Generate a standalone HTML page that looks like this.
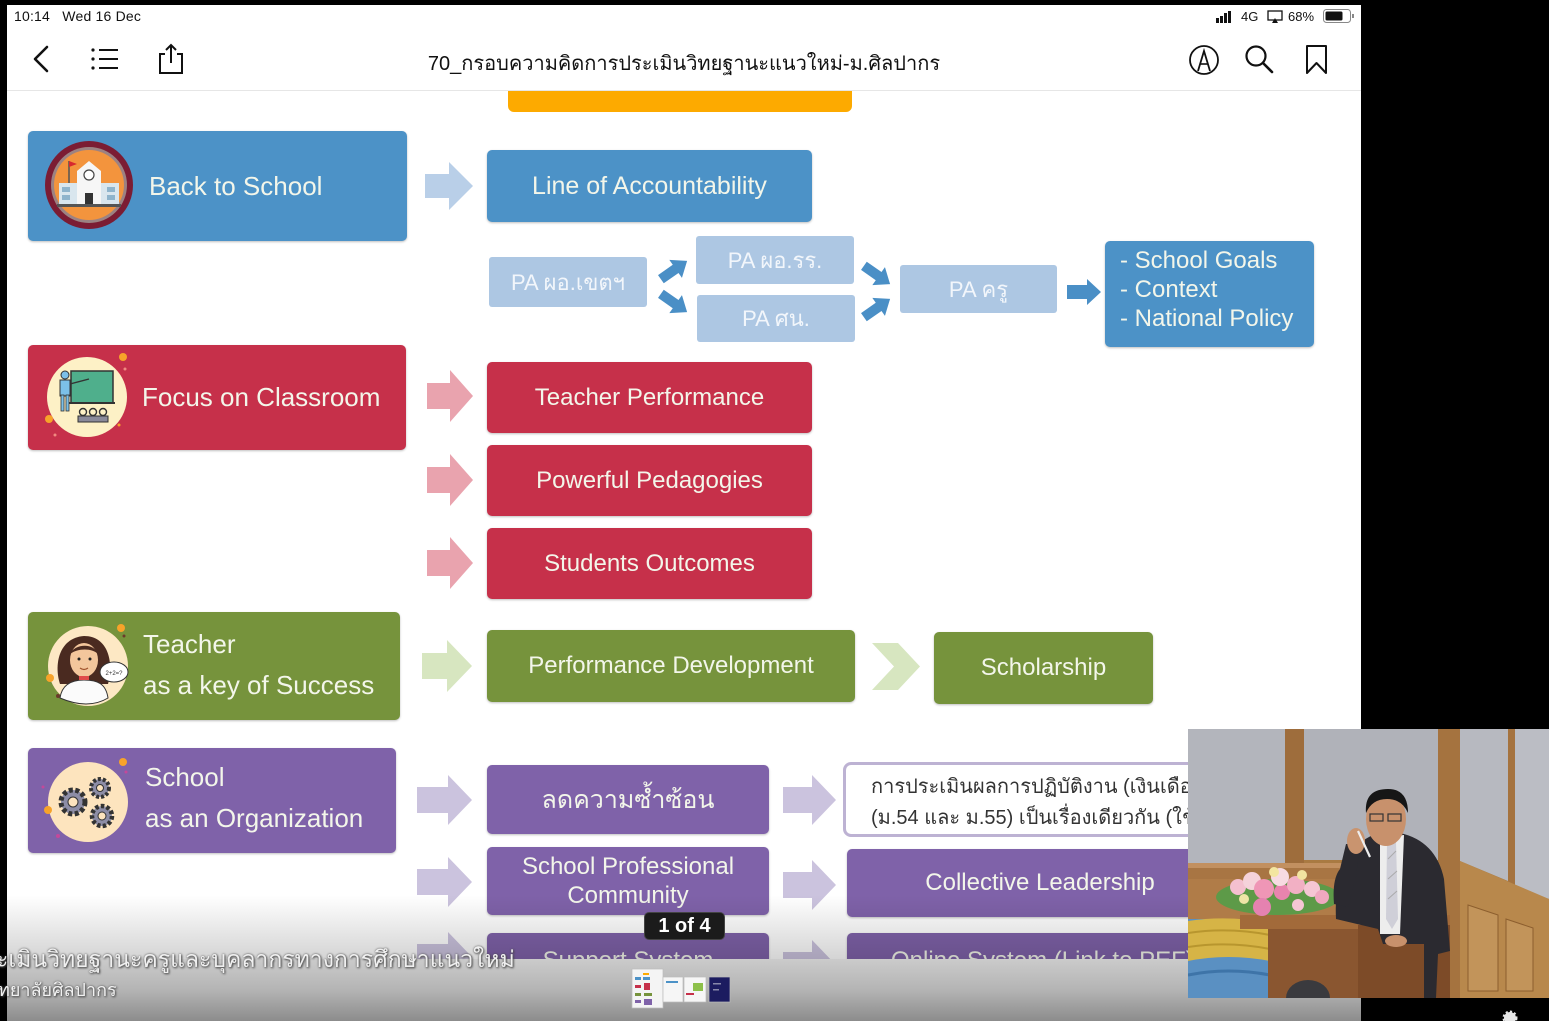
<!DOCTYPE html>
<html><head><meta charset="utf-8">
<style>
*{margin:0;padding:0;box-sizing:border-box}
html,body{width:1549px;height:1021px;overflow:hidden;background:#000}
body{position:relative;font-family:"Liberation Sans","DejaVu Sans","Noto Sans CJK SC",sans-serif}
.abs{position:absolute}
.screen{position:absolute;left:7px;top:5px;width:1354px;height:1016px;background:#fff}
.box{position:absolute;display:flex;align-items:center;justify-content:center;color:#f3f6ea;border-radius:5px;font-size:24px;box-shadow:0 1px 2px rgba(0,0,0,.25);text-align:center;white-space:nowrap;overflow:hidden}
.blue{background:#4c92c7}
.lb{background:#adc7e3;font-size:22px;color:#f2f6fb;box-shadow:none;border-radius:3px}
.red{background:#c6304a}
.green{background:#76933c}
.purple{background:#7f62a9}
.main{justify-content:flex-start;font-size:26px;line-height:41px;text-align:left}
svg{position:absolute;overflow:visible}
</style></head><body>
<div class="screen"></div>

<!-- status bar -->
<div class="abs" style="left:14px;top:8px;font-size:14px;color:#111;letter-spacing:0.2px;">10:14&nbsp;&nbsp;&nbsp;Wed 16 Dec</div>
<svg style="left:1214px;top:10px" width="30" height="14"><rect x="2" y="8" width="3" height="5" fill="#111"/><rect x="6" y="6" width="3" height="7" fill="#111"/><rect x="10" y="3" width="3" height="10" fill="#111"/><rect x="14" y="1" width="3" height="12" fill="#111"/></svg>
<div class="abs" style="left:1241px;top:9px;font-size:13px;color:#111;">4G</div>
<svg style="left:1267px;top:10px" width="18" height="14"><rect x="1" y="1" width="14" height="9" fill="none" stroke="#111" stroke-width="1.3"/><polygon points="5,13 8,8 11,13" fill="#111"/></svg>
<div class="abs" style="left:1288px;top:9px;font-size:13px;color:#111;">68%</div>
<svg style="left:1323px;top:9px" width="32" height="14"><rect x="0.5" y="0.5" width="27" height="13" rx="3" fill="none" stroke="#888"/><rect x="2.5" y="2.5" width="17" height="9" rx="1.5" fill="#111"/><rect x="29" y="5" width="2" height="4" fill="#888"/></svg>

<!-- nav -->
<svg style="left:30px;top:44px" width="30" height="32"><polyline points="17,3 5,15 17,27" fill="none" stroke="#111" stroke-width="2.6" stroke-linecap="round" stroke-linejoin="round"/></svg>
<svg style="left:90px;top:46px" width="32" height="28"><circle cx="3" cy="4" r="1.6" fill="#111"/><circle cx="3" cy="13" r="1.6" fill="#111"/><circle cx="3" cy="22" r="1.6" fill="#111"/><line x1="9" y1="4" x2="28" y2="4" stroke="#111" stroke-width="2"/><line x1="9" y1="13" x2="28" y2="13" stroke="#111" stroke-width="2"/><line x1="9" y1="22" x2="28" y2="22" stroke="#111" stroke-width="2"/></svg>
<svg style="left:158px;top:42px" width="28" height="34"><path d="M7,12 H2 V31 H24 V12 H19" fill="none" stroke="#111" stroke-width="2"/><line x1="13" y1="3" x2="13" y2="21" stroke="#111" stroke-width="2"/><polyline points="8,8 13,3 18,8" fill="none" stroke="#111" stroke-width="2"/></svg>
<div class="abs" style="left:7px;width:1354px;top:47px;text-align:center;font-size:20px;color:#111;font-family:'Liberation Sans','DejaVu Sans',sans-serif;">70_กรอบความคิดการประเมินวิทยฐานะแนวใหม่-ม.ศิลปากร</div>
<svg style="left:1188px;top:44px" width="34" height="34"><circle cx="16" cy="16" r="14" fill="none" stroke="#111" stroke-width="1.8"/><path d="M10,27 L16,7 L22,27" fill="none" stroke="#111" stroke-width="1.8"/><line x1="12" y1="20" x2="20" y2="20" stroke="#111" stroke-width="1.6"/></svg>
<svg style="left:1244px;top:44px" width="32" height="32"><circle cx="12" cy="12" r="9.5" fill="none" stroke="#111" stroke-width="2.2"/><line x1="19" y1="19" x2="28" y2="28" stroke="#111" stroke-width="2.6" stroke-linecap="round"/></svg>
<svg style="left:1305px;top:44px" width="26" height="32"><path d="M2,2 H21 V29 L11.5,19 L2,29 Z" fill="none" stroke="#111" stroke-width="2" stroke-linejoin="round"/></svg>
<div class="abs" style="left:7px;top:90px;width:1354px;height:1px;background:#e6e6e6"></div>

<!-- orange bar -->
<div class="abs" style="left:508px;top:91px;width:344px;height:21px;background:#fdaa00;border-radius:0 0 6px 6px"></div>

<!-- Row 1 -->
<div class="box blue main" style="left:28px;top:131px;width:379px;height:110px;padding-left:121px;">Back to School</div>
<svg style="left:45px;top:141px" width="88" height="88">
<circle cx="44" cy="44" r="44" fill="#7b1c33"/><circle cx="44" cy="44" r="38" fill="#9c8282"/><circle cx="44" cy="44" r="35" fill="#f3943d"/>
<rect x="14" y="42" width="60" height="22" fill="#d9e6ee"/><rect x="17" y="46" width="8" height="5" fill="#8fb4cc"/><rect x="17" y="54" width="8" height="5" fill="#8fb4cc"/><rect x="62" y="46" width="8" height="5" fill="#8fb4cc"/><rect x="62" y="54" width="8" height="5" fill="#8fb4cc"/>
<polygon points="32,30 44,20 56,30 56,64 32,64" fill="#f6f6f6"/><circle cx="44" cy="34" r="5" fill="#fff" stroke="#444" stroke-width="1.2"/><rect x="40" y="52" width="8" height="12" fill="#333"/>
<line x1="24" y1="20" x2="24" y2="42" stroke="#555" stroke-width="1.5"/><polygon points="24,20 32,23 24,26" fill="#d8282e"/><rect x="12" y="63" width="64" height="3" fill="#555"/>
</svg>
<svg style="left:425px;top:162px" width="48" height="48"><polygon points="0,12 24,12 24,0 48,24 24,48 24,36 0,36" fill="#b9cfe8"/></svg>
<div class="box blue" style="left:487px;top:150px;width:325px;height:72px;font-size:25px;">Line of Accountability</div>

<div class="box lb" style="left:489px;top:257px;width:158px;height:50px;">PA ผอ.เขตฯ</div>
<div class="box lb" style="left:696px;top:236px;width:158px;height:48px;">PA ผอ.รร.</div>
<div class="box lb" style="left:697px;top:295px;width:158px;height:47px;">PA ศน.</div>
<div class="box lb" style="left:900px;top:265px;width:157px;height:48px;">PA ครู</div>
<svg style="left:657px;top:256px" width="34" height="28"><g transform="translate(17,14) rotate(-35)"><polygon points="-16,-5 2,-5 2,-11 16,0 2,11 2,5 -16,5" fill="#4a8fc6"/></g></svg>
<svg style="left:657px;top:289px" width="34" height="28"><g transform="translate(17,14) rotate(35)"><polygon points="-16,-5 2,-5 2,-11 16,0 2,11 2,5 -16,5" fill="#4a8fc6"/></g></svg>
<svg style="left:860px;top:261px" width="34" height="28"><g transform="translate(17,14) rotate(35)"><polygon points="-16,-5 2,-5 2,-11 16,0 2,11 2,5 -16,5" fill="#4a8fc6"/></g></svg>
<svg style="left:860px;top:294px" width="34" height="28"><g transform="translate(17,14) rotate(-35)"><polygon points="-16,-5 2,-5 2,-11 16,0 2,11 2,5 -16,5" fill="#4a8fc6"/></g></svg>
<svg style="left:1067px;top:279px" width="34" height="26"><polygon points="0,6 20,6 20,0 34,13 20,26 20,20 0,20" fill="#4a8fc6"/></svg>
<div class="box blue" style="left:1105px;top:241px;width:209px;height:106px;justify-content:flex-start;padding-left:15px;padding-bottom:9px;line-height:29px;text-align:left;">- School Goals<br>- Context<br>- National Policy</div>

<!-- Row 2 -->
<div class="box red main" style="left:28px;top:345px;width:378px;height:105px;padding-left:114px;">Focus on Classroom</div>
<svg style="left:47px;top:357px" width="80" height="80">
<circle cx="40" cy="40" r="40" fill="#fdf1c6"/>
<circle cx="76" cy="0" r="4" fill="#f7a32a"/><circle cx="78" cy="12" r="1.5" fill="#f08a80"/><circle cx="2" cy="62" r="4" fill="#f7a32a"/><circle cx="8" cy="78" r="1.5" fill="#f08a80"/><circle cx="72" cy="68" r="1.5" fill="#f7a32a"/>
<rect x="24" y="14" width="42" height="32" fill="#4faf8c" stroke="#333" stroke-width="1.5"/><line x1="22" y1="46" x2="68" y2="46" stroke="#333" stroke-width="2"/>
<circle cx="18" cy="18" r="4" fill="#7cc0e8" stroke="#333" stroke-width="1"/><rect x="13" y="23" width="10" height="16" fill="#7cc0e8" stroke="#333" stroke-width="1"/><rect x="14" y="38" width="3" height="16" fill="#7cc0e8" stroke="#333" stroke-width="0.8"/><rect x="19" y="38" width="3" height="16" fill="#7cc0e8" stroke="#333" stroke-width="0.8"/>
<line x1="23" y1="27" x2="42" y2="22" stroke="#333" stroke-width="1.4"/>
<circle cx="36" cy="55" r="3.5" fill="none" stroke="#333" stroke-width="1.4"/><circle cx="46" cy="55" r="3.5" fill="none" stroke="#333" stroke-width="1.4"/><circle cx="56" cy="55" r="3.5" fill="none" stroke="#333" stroke-width="1.4"/>
<rect x="31" y="59" width="30" height="6" fill="#8a8a9a" stroke="#333" stroke-width="1"/>
</svg>
<svg style="left:427px;top:370px" width="46" height="52"><polygon points="0,13 23,13 23,0 46,26 23,52 23,39 0,39" fill="#e9a3ae"/></svg>
<svg style="left:427px;top:454px" width="46" height="52"><polygon points="0,13 23,13 23,0 46,26 23,52 23,39 0,39" fill="#e9a3ae"/></svg>
<svg style="left:427px;top:537px" width="46" height="52"><polygon points="0,13 23,13 23,0 46,26 23,52 23,39 0,39" fill="#e9a3ae"/></svg>
<div class="box red" style="left:487px;top:362px;width:325px;height:71px;">Teacher Performance</div>
<div class="box red" style="left:487px;top:445px;width:325px;height:71px;">Powerful Pedagogies</div>
<div class="box red" style="left:487px;top:528px;width:325px;height:71px;">Students Outcomes</div>

<!-- Row 3 -->
<div class="box green main" style="left:28px;top:612px;width:372px;height:108px;padding-left:115px;padding-bottom:2px;">Teacher<br>as a key of Success</div>
<svg style="left:48px;top:626px" width="82" height="82">
<circle cx="40" cy="40" r="40" fill="#fde8c4"/>
<circle cx="73" cy="2" r="4" fill="#f7a32a"/><circle cx="76" cy="10" r="1.5" fill="#6b3a2a"/><circle cx="2" cy="52" r="4" fill="#f7a32a"/><circle cx="10" cy="70" r="2" fill="#6b3a2a"/>
<path d="M12,58 C6,40 10,12 36,10 C60,10 66,36 60,58 Z" fill="#4a2a20"/>
<ellipse cx="36" cy="34" rx="14" ry="17" fill="#f3c69c"/>
<path d="M22,28 C26,18 46,16 50,28 C44,22 30,22 22,28Z" fill="#4a2a20"/>
<circle cx="31" cy="33" r="1.5" fill="#222"/><circle cx="42" cy="33" r="1.5" fill="#222"/><path d="M32,42 Q36,45 40,42" stroke="#a0522d" fill="none" stroke-width="1.2"/>
<path d="M12,72 C14,58 24,54 36,54 C50,54 58,58 60,72 Q40,84 12,72Z" fill="#fbfbfb" stroke="#333" stroke-width="1"/>
<rect x="31" y="50" width="10" height="4" fill="#e04b4b"/>
<ellipse cx="66" cy="46" rx="14" ry="10" fill="#fff" stroke="#333" stroke-width="1"/>
<text x="66" y="49" font-size="6" text-anchor="middle" fill="#333" font-family="Liberation Sans">2+2=?</text>
</svg>
<svg style="left:422px;top:640px" width="50" height="52"><polygon points="0,13 25,13 25,0 50,26 25,52 25,39 0,39" fill="#d7e6c0"/></svg>
<div class="box green" style="left:487px;top:630px;width:368px;height:72px;">Performance Development</div>
<svg style="left:872px;top:643px" width="48" height="47"><polygon points="0,0 26,0 48,23.5 26,47 0,47 22,23.5" fill="#d7e6c0"/></svg>
<div class="box green" style="left:934px;top:632px;width:219px;height:72px;">Scholarship</div>

<!-- Row 4 -->
<div class="box purple main" style="left:28px;top:748px;width:368px;height:105px;padding-left:117px;padding-bottom:6px;">School<br>as an Organization</div>
<svg style="left:48px;top:762px" width="82" height="82">
<circle cx="40" cy="40" r="40" fill="#fde4be"/>
<circle cx="75" cy="0" r="4" fill="#f7a32a"/><circle cx="78" cy="10" r="1.5" fill="#c4489a"/><circle cx="0" cy="48" r="4" fill="#f7a32a"/><circle cx="-5" cy="25" r="1.5" fill="#c4489a"/><circle cx="10" cy="74" r="2" fill="#c4489a"/>
<g fill="#6d6d86" stroke="#333" stroke-width="1">
<circle cx="25" cy="40" r="12" stroke-dasharray="4 2.5" stroke-width="5" fill="#8d8da6"/><circle cx="25" cy="40" r="5" fill="#fde4be"/>
<circle cx="52" cy="26" r="9" stroke-dasharray="3 2" stroke-width="4" fill="#8d8da6"/><circle cx="52" cy="26" r="3.5" fill="#fde4be"/>
<circle cx="54" cy="54" r="10" stroke-dasharray="3.5 2.2" stroke-width="4.5" fill="#8d8da6"/><circle cx="54" cy="54" r="4" fill="#fde4be"/>
</g>
</svg>
<svg style="left:417px;top:775px" width="55" height="50"><polygon points="0,12 31,12 31,0 55,25 31,50 31,38 0,38" fill="#cbc3de"/></svg>
<svg style="left:417px;top:857px" width="55" height="50"><polygon points="0,12 31,12 31,0 55,25 31,50 31,38 0,38" fill="#cbc3de"/></svg>
<svg style="left:417px;top:932px" width="55" height="50"><polygon points="0,12 31,12 31,0 55,25 31,50 31,38 0,38" fill="#cbc3de"/></svg>
<div class="box purple" style="left:487px;top:765px;width:282px;height:69px;font-size:25px;">ลดความซ้ำซ้อน</div>
<svg style="left:783px;top:775px" width="53" height="50"><polygon points="0,12 29,12 29,0 53,25 29,50 29,38 0,38" fill="#cbc3de"/></svg>
<div class="abs" style="left:843px;top:762px;width:400px;height:75px;border:3px solid #bdb2d3;border-radius:8px;background:#fff;font-size:20px;color:#333;line-height:31px;padding:7px 0 0 25px;white-space:nowrap;overflow:hidden;">การประเมินผลการปฏิบัติงาน (เงินเดือน)<br>(ม.54 และ ม.55) เป็นเรื่องเดียวกัน (ใช้ตัวชี้วัดเดียวกัน)</div>

<div class="box purple" style="left:487px;top:847px;width:282px;height:68px;line-height:29px;white-space:normal;font-size:24px;">School Professional<br>Community</div>
<svg style="left:783px;top:860px" width="53" height="50"><polygon points="0,12 29,12 29,0 53,25 29,50 29,38 0,38" fill="#cbc3de"/></svg>
<div class="box purple" style="left:847px;top:849px;width:386px;height:68px;">Collective Leadership</div>

<div class="box purple" style="left:487px;top:933px;width:282px;height:68px;align-items:flex-start;padding-top:14px;">Support System</div>
<svg style="left:783px;top:940px" width="53" height="50"><polygon points="0,12 29,12 29,0 53,25 29,50 29,38 0,38" fill="#cbc3de"/></svg>
<div class="box purple" style="left:847px;top:933px;width:400px;height:68px;align-items:flex-start;justify-content:flex-start;padding:14px 0 0 44px;">Online System (Link to PEF)</div>

<!-- bottom fade overlay -->
<div class="abs" style="left:7px;top:895px;width:1354px;height:64px;background:linear-gradient(to bottom,rgba(0,0,0,0),rgba(0,0,0,0.17));"></div>
<!-- page badge -->
<div class="abs" style="left:644px;top:912px;width:81px;height:28px;background:#1b1b1b;border:1px solid #444;border-radius:5px;color:#fff;font-weight:bold;font-size:20px;text-align:center;line-height:26px;">1 of 4</div>
<!-- bottom band -->
<div class="abs" style="left:0;top:959px;width:1361px;height:62px;background:linear-gradient(to bottom,#cbcbcb,#b4b4b4 50%,#8c8c8c);"></div>
<div class="abs" style="left:0;top:0;width:7px;height:1021px;background:#000;"></div>
<!-- caption -->
<div class="abs" style="left:-4px;top:942px;font-size:23px;color:#f0f0f0;text-shadow:0 0 2px #555,1px 1px 2px #444;white-space:nowrap;">ะเมินวิทยฐานะครูและบุคลากรทางการศึกษาแนวใหม่</div>
<div class="abs" style="left:-2px;top:975px;font-size:18px;color:#f2f2f2;text-shadow:0 0 2px #555,1px 1px 2px #444;white-space:nowrap;">ทยาลัยศิลปากร</div>
<!-- thumbnails -->
<svg style="left:632px;top:969px" width="100" height="40">
<rect x="0" y="0" width="31" height="39" fill="#f4f4f4" stroke="#bbb" stroke-width="0.7"/>
<rect x="3" y="8" width="6" height="3" fill="#4c92c7"/><rect x="11" y="4" width="6" height="2" fill="#fdaa00"/><rect x="11" y="8" width="7" height="3" fill="#4c92c7"/><rect x="3" y="16" width="6" height="3" fill="#c6304a"/><rect x="12" y="14" width="6" height="7" fill="#c6304a"/><rect x="3" y="24" width="6" height="3" fill="#76933c"/><rect x="12" y="24" width="8" height="3" fill="#76933c"/><rect x="3" y="31" width="6" height="3" fill="#7f62a9"/><rect x="12" y="30" width="8" height="6" fill="#7f62a9"/>
<rect x="31" y="8" width="20" height="25" fill="#f6f6f6" stroke="#bbb" stroke-width="0.7"/><rect x="34" y="12" width="12" height="2" fill="#4c92c7"/>
<rect x="52" y="8" width="22" height="25" fill="#f6f6f6" stroke="#bbb" stroke-width="0.7"/><rect x="61" y="14" width="10" height="8" fill="#8dc04a"/><rect x="54" y="24" width="8" height="2" fill="#c6304a"/>
<rect x="77" y="8" width="21" height="25" fill="#1c1c60" stroke="#bbb" stroke-width="0.7"/><rect x="81" y="14" width="8" height="1.5" fill="#88a"/><rect x="81" y="20" width="6" height="1.5" fill="#88a"/>
</svg>

<!-- video -->
<svg style="left:1188px;top:729px" width="361" height="269" viewBox="0 0 361 269">
<defs><clipPath id="vc"><rect width="361" height="269"/></clipPath></defs>
<g clip-path="url(#vc)">
<rect width="361" height="269" fill="#a97a42"/>
<!-- upper gray panels -->
<rect x="0" y="0" width="97" height="134" fill="#b3b5bc"/>
<rect x="97" y="0" width="19" height="134" fill="#9e6d3c"/>
<rect x="116" y="0" width="134" height="131" fill="#b0b2b9"/>
<rect x="250" y="0" width="22" height="269" fill="#a5733f"/>
<polygon points="272,0 320,0 320,152 272,132" fill="#b7b9c0"/>
<rect x="320" y="0" width="7" height="269" fill="#a5733f"/>
<polygon points="327,0 361,0 361,170 327,158" fill="#bbbdc4"/>
<!-- wainscot -->
<rect x="0" y="134" width="250" height="135" fill="#a87543"/>
<rect x="0" y="134" width="250" height="5" fill="#c29060"/>
<rect x="0" y="150" width="160" height="40" fill="#b07c48"/>
<polygon points="272,132 361,170 361,269 272,269" fill="#b8884c"/>
<polygon points="280,176 310,186 310,262 280,262" fill="#c2945a" stroke="#8c5e2e"/>
<polygon points="318,190 345,199 345,262 318,262" fill="#c2945a" stroke="#8c5e2e"/>
<!-- drape -->
<rect x="0" y="190" width="82" height="79" fill="#5a90c2"/>
<path d="M0,192 Q40,186 82,194 L82,232 Q40,224 0,232Z" fill="#d6b446"/>
<path d="M0,204 Q40,198 82,206" stroke="#b8962e" fill="none" stroke-width="2"/>
<path d="M0,218 Q40,212 82,220" stroke="#b8962e" fill="none" stroke-width="2"/>
<path d="M0,246 Q40,238 82,246" stroke="#3e74a8" fill="none" stroke-width="3"/>
<!-- podium -->
<rect x="80" y="196" width="170" height="73" fill="#8a5630"/>
<polygon points="52,186 262,186 262,200 52,200" fill="#a26a3a"/>
<rect x="170" y="196" width="92" height="73" fill="#7d4b28"/>
<path d="M98,269 A22,18 0 0 1 142,269Z" fill="#3a3a3e"/>
<!-- flowers -->
<ellipse cx="90" cy="168" rx="62" ry="18" fill="#5d9a48"/>
<circle cx="50" cy="158" r="8" fill="#f4c0cf"/><circle cx="64" cy="152" r="9" fill="#f5d2da"/><circle cx="76" cy="160" r="10" fill="#ef96b6"/><circle cx="94" cy="163" r="8" fill="#e884ae"/><circle cx="92" cy="148" r="9" fill="#f7dbe2"/><circle cx="108" cy="156" r="9" fill="#f2b0c4"/><circle cx="124" cy="160" r="8" fill="#f6c6d4"/><circle cx="134" cy="168" r="7" fill="#f0a8c0"/><circle cx="74" cy="178" r="9" fill="#e582b0"/><circle cx="110" cy="176" r="6" fill="#f6c6d4"/>
<circle cx="86" cy="143" r="5" fill="#f3e6a0"/><circle cx="114" cy="146" r="5" fill="#f2e4a0"/><circle cx="56" cy="170" r="5" fill="#eee5a6"/>
<!-- man -->
<path d="M148,190 Q146,150 160,120 L188,104 L212,104 Q248,112 256,150 L262,222 L250,225 L248,269 L236,269 L236,215 L195,215 L190,200Z" fill="#2b2a30"/>
<polygon points="192,108 216,106 212,205 192,205" fill="#ededed"/>
<polygon points="199,112 208,112 210,190 204,200 198,190" fill="#cfcfd8"/>
<line x1="200" y1="130" x2="208" y2="122" stroke="#aaa" stroke-width="1"/><line x1="200" y1="150" x2="209" y2="142" stroke="#aaa" stroke-width="1"/><line x1="200" y1="170" x2="209" y2="162" stroke="#aaa" stroke-width="1"/>
<path d="M146,175 Q144,150 152,140 L158,115 L172,115 L168,148 L160,178Z" fill="#2b2a30"/>
<ellipse cx="168" cy="112" rx="9" ry="13" fill="#c9946f"/>
<line x1="170" y1="102" x2="182" y2="128" stroke="#eeeeee" stroke-width="2.2"/>
<ellipse cx="198" cy="90" rx="20" ry="27" fill="#c8916c"/>
<path d="M178,84 Q176,60 200,60 Q220,60 220,84 Q214,70 199,70 Q184,70 178,84Z" fill="#161616"/>
<rect x="182" y="85" width="13" height="7" fill="none" stroke="#333" stroke-width="1.2"/><rect x="200" y="85" width="13" height="7" fill="none" stroke="#333" stroke-width="1.2"/>
<ellipse cx="208" cy="212" rx="11" ry="6" fill="#c8916c"/>
</g>
</svg>
<!-- gear icon bottom right -->
<svg style="left:1500px;top:1008px" width="22" height="16"><circle cx="10" cy="10" r="6" fill="#e8e8e8" stroke="#e8e8e8" stroke-width="3" stroke-dasharray="2 2"/></svg>
</body></html>
